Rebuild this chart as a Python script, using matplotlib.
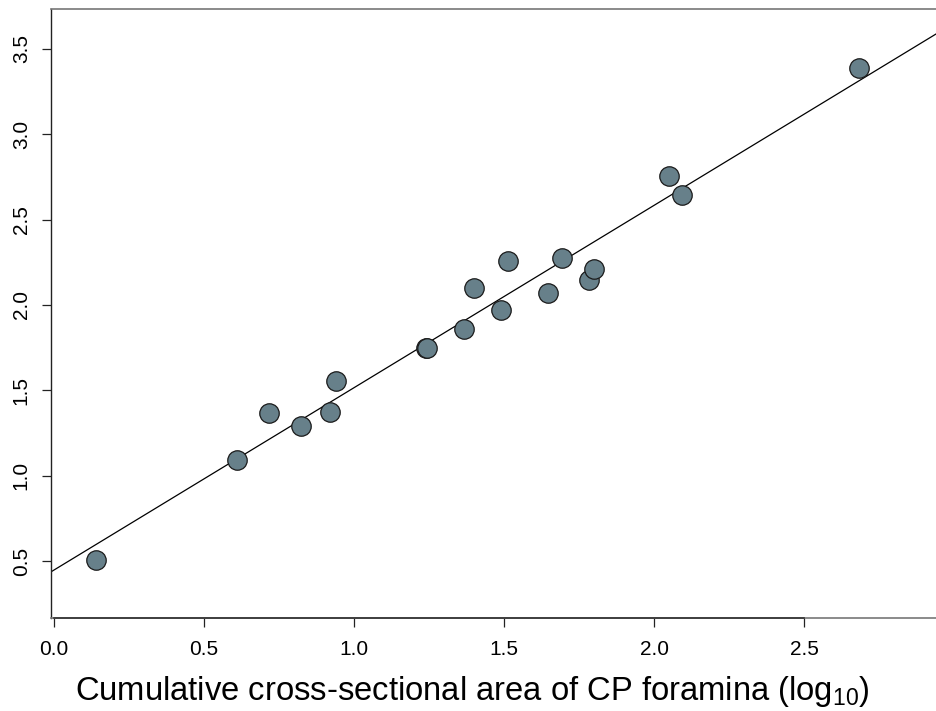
import numpy as np
import matplotlib
matplotlib.use('Agg')
from matplotlib import pyplot as plt

plt.rcParams['font.family'] = ['Liberation Sans', 'DejaVu Sans']
plt.rcParams['mathtext.fontset'] = 'custom'
plt.rcParams['mathtext.rm'] = 'Liberation Sans'
plt.rcParams['mathtext.it'] = 'Liberation Sans:italic'

# log10 cumulative foramina area vs log10 response
area = [0.141, 0.612, 0.717, 0.823, 0.920, 0.940, 1.239, 1.245, 1.368, 1.400,
        1.490, 1.514, 1.646, 1.692, 1.783, 1.799, 2.050, 2.092, 2.683]
resp = [0.506, 1.092, 1.369, 1.293, 1.371, 1.554, 1.750, 1.745, 1.861, 2.098,
        1.969, 2.256, 2.070, 2.273, 2.144, 2.209, 2.755, 2.644, 3.386]

# regression line
intercept = 0.446
slope = 1.069

xticks = [0.0, 0.5, 1.0, 1.5, 2.0, 2.5]
yticks = [0.5, 1.0, 1.5, 2.0, 2.5, 3.0, 3.5]


def main():
    W, H = 936, 711
    fig = plt.figure(figsize=(W / 100, H / 100), dpi=100)
    left, right, top, bottom = 51, 946, 9, 618
    ax = fig.add_axes([left / W, (H - bottom) / H, (right - left) / W, (bottom - top) / H])

    ax.set_xlim(-0.009, 2.972)
    ax.set_ylim(0.166, 3.734)

    xs = np.array([-0.1, 3.1])
    ax.plot(xs, intercept + slope * xs, '-', color='black', lw=0.9, zorder=2)

    ax.plot(area, resp, 'o', ms=14, mfc='#67808a', mec='#1a1a1a', mew=0.9,
            linestyle='none', zorder=3)

    for side in ['top', 'bottom', 'right']:
        ax.spines[side].set_color('#777777')
        ax.spines[side].set_linewidth(1.2)
    ax.spines['left'].set_color('#222222')
    ax.spines['left'].set_linewidth(1.0)

    # darker axis line between the first and last x tick
    ax.plot([0.0, 2.5], [0, 0], color='#333333', lw=1.2,
            transform=ax.get_xaxis_transform(), clip_on=False, zorder=4)

    ax.set_xticks(xticks)
    ax.set_xticklabels(['%.1f' % t for t in xticks])
    ax.set_yticks(yticks)
    ax.set_yticklabels(['%.1f' % t for t in yticks], rotation=90, va='center')
    ax.tick_params(direction='out', length=6.5, width=0.9, color='#222222',
                   labelsize=15)
    ax.tick_params(axis='x', pad=9)
    ax.tick_params(axis='y', pad=8)

    fig.text(472 / W, (H - 700) / H,
             r'Cumulative cross-sectional area of CP foramina (log$_{\mathrm{10}}$)',
             ha='center', va='baseline', fontsize=23.6)

    fig.savefig('out.png', dpi=100)


if __name__ == "__main__":
    main()
